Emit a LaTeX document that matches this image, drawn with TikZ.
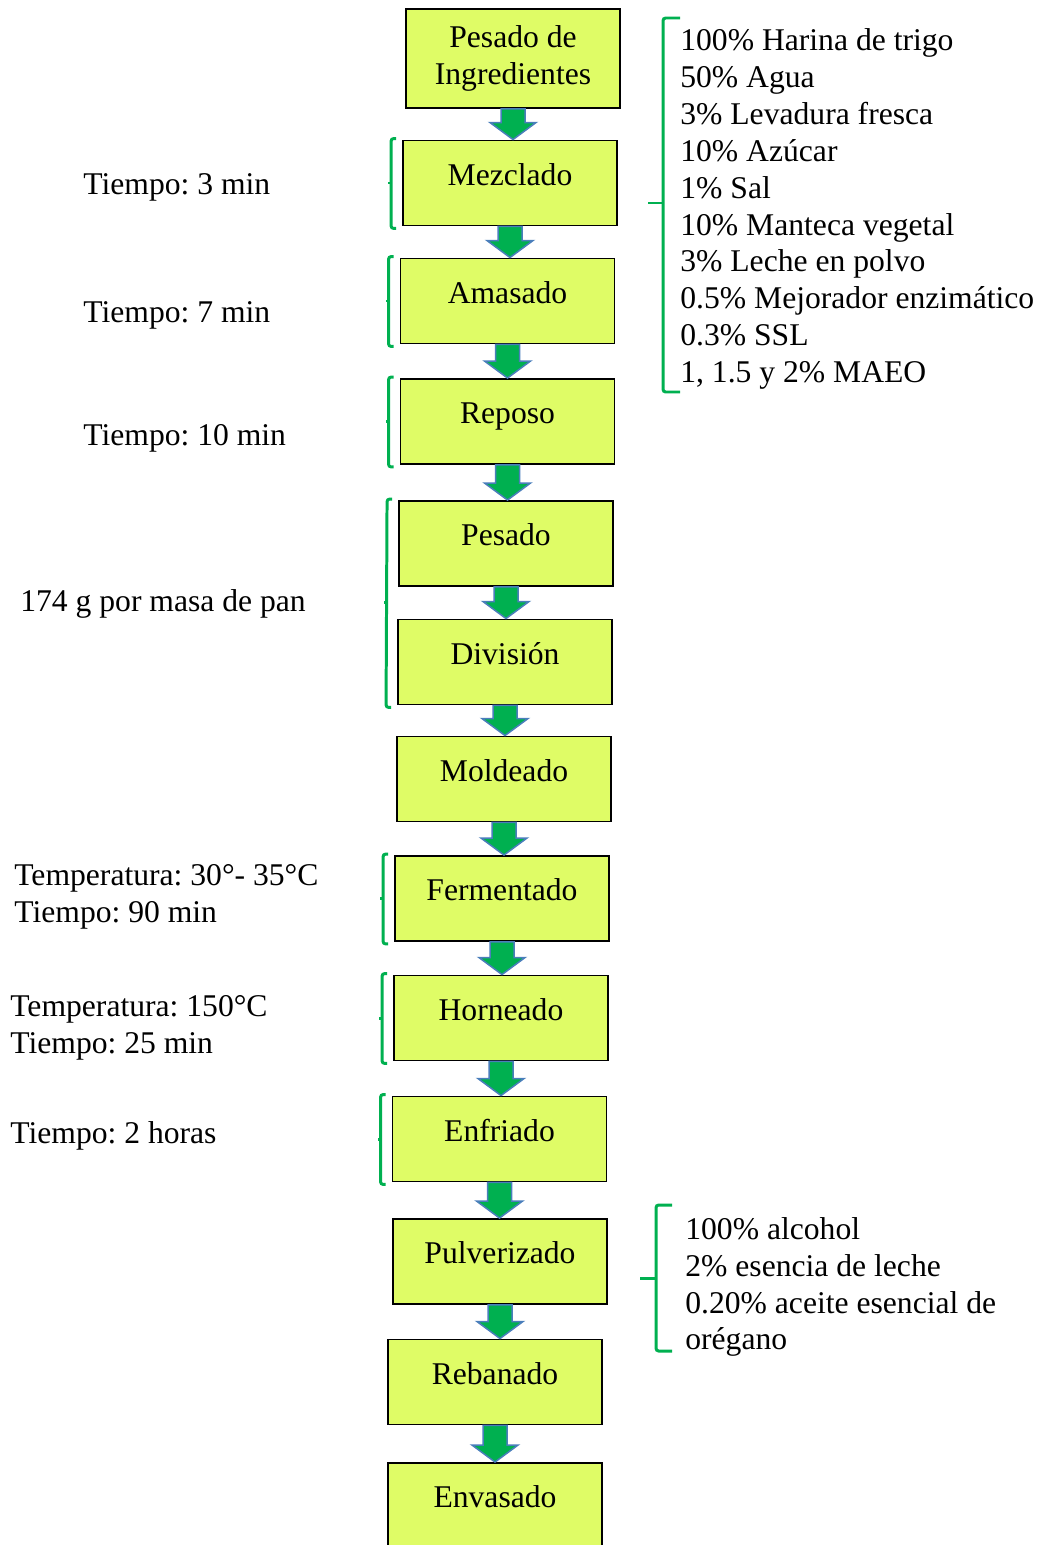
\documentclass[tikz,border=0pt]{standalone}
\usepackage{fontspec}
\setmainfont{Liberation Serif}
\usetikzlibrary{calc}
\frenchspacing

\definecolor{amarillo}{HTML}{DFFC66}
\definecolor{verde}{HTML}{00B050}
\definecolor{azul}{HTML}{4A7EBB}

\newcommand{\flecha}[2]{%
  \draw[flecha] ($(#1.south)+(-12,0)$) -- ($(#2.north -| #1.south)+(-12,-17)$)
    -- ($(#2.north -| #1.south)+(-23,-17)$) -- (#2.north -| #1.south)
    -- ($(#2.north -| #1.south)+(23,-17)$) -- ($(#2.north -| #1.south)+(12,-17)$)
    -- ($(#1.south)+(12,0)$) -- cycle;}
\newcommand{\corchete}[2]{%
  \draw[llave] ($(#1.north west)+(-6,-1)$) -- ($(#1.north west)+(-11,-1)$)
    -- ($(#2.south west)+(-11,2)$) -- ($(#2.south west)+(-6,2)$);
  \draw[llave] ($(#1.north west)!0.5!(#2.south west)+(-11,0)$) -- ++(-3,0);}

\begin{document}
\begin{tikzpicture}[x=0.02cm,y=-0.02cm,
	every node/.style={font=\fontsize{18}{21}\selectfont},
	paso/.style={draw,line width=1.1pt,fill=amarillo,minimum width=4.28cm,minimum height=1.7cm,align=center,inner sep=2pt},
	uno/.style={paso,text height=0.49cm,text depth=0.41cm},
	flecha/.style={fill=verde,draw=azul,line width=0.85pt,line join=miter},
	llave/.style={draw=verde,line width=1.7pt,rounded corners=1.5pt},
	nota/.style={anchor=west,align=left,inner sep=0pt}]
	\useasboundingbox (0,0) rectangle (1041,1545);
	\draw (513,58.5) node [paso,minimum height=1.98cm] (pi) {Pesado de\\Ingredientes};
	\draw (510,183) node [uno] (mez) {Mezclado};
	\draw (507.5,301) node [uno] (ama) {Amasado};
	\draw (507.5,421.5) node [uno] (rep) {Reposo};
	\draw (506,543.5) node [uno] (pes) {Pesado};
	\draw (505,662) node [uno] (div) {División};
	\draw (504,779) node [uno] (mol) {Moldeado};
	\draw (502,898.5) node [uno] (fer) {Fermentado};
	\draw (501,1018) node [uno] (hor) {Horneado};
	\draw (499.5,1139) node [uno] (enf) {Enfriado};
	\draw (500,1261.5) node [uno] (pul) {Pulverizado};
	\draw (495,1382) node [uno] (reb) {Rebanado};
	\draw (495,1505.5) node [uno] (env) {Envasado};
	\flecha{pi}{mez} \flecha{mez}{ama} \flecha{ama}{rep} \flecha{rep}{pes}
	\flecha{pes}{div} \flecha{div}{mol} \flecha{mol}{fer} \flecha{fer}{hor}
	\flecha{hor}{enf} \flecha{enf}{pul} \flecha{pul}{reb} \flecha{reb}{env}
	\corchete{mez}{mez} \corchete{ama}{ama} \corchete{rep}{rep} \corchete{pes}{div}
	\corchete{fer}{fer} \corchete{hor}{hor} \corchete{enf}{enf}
	\draw (83,187) node [nota] (t1) {Tiempo: 3 min};
	\draw (83,315) node [nota] (t2) {Tiempo: 7 min};
	\draw (83,438) node [nota] (t3) {Tiempo: 10 min};
	\draw (20,604) node [nota] (t4) {174 g por masa de pan};
	\draw (14,897) node [nota] (t5) {Temperatura: 30°- 35°C\\Tiempo: 90 min};
	\draw (10,1028) node [nota] (t6) {Temperatura: 150°C\\Tiempo: 25 min};
	\draw (10,1136) node [nota] (t7) {Tiempo: 2 horas};
	\draw (680,209) node [nota] (ing) {100\% Harina de trigo\\50\% Agua\\3\% Levadura fresca\\10\% Azúcar\\1\% Sal\\10\% Manteca vegetal\\3\% Leche en polvo\\0.5\% Mejorador enzimático\\0.3\% SSL\\1, 1.5 y 2\% MAEO};
	\draw (685,1287) node [nota] (sol) {100\% alcohol\\2\% esencia de leche\\0.20\% aceite esencial de\\orégano};
	\draw[llave] (680,18) -- (663,18) -- (663,392) -- (680,392);
	\draw[llave] (663,203) -- (648,203);
	\draw[llave] (672,1205) -- (656,1205) -- (656,1351) -- (672,1351);
	\draw[llave] (656,1278) -- (640,1278);
\end{tikzpicture}
\end{document}
